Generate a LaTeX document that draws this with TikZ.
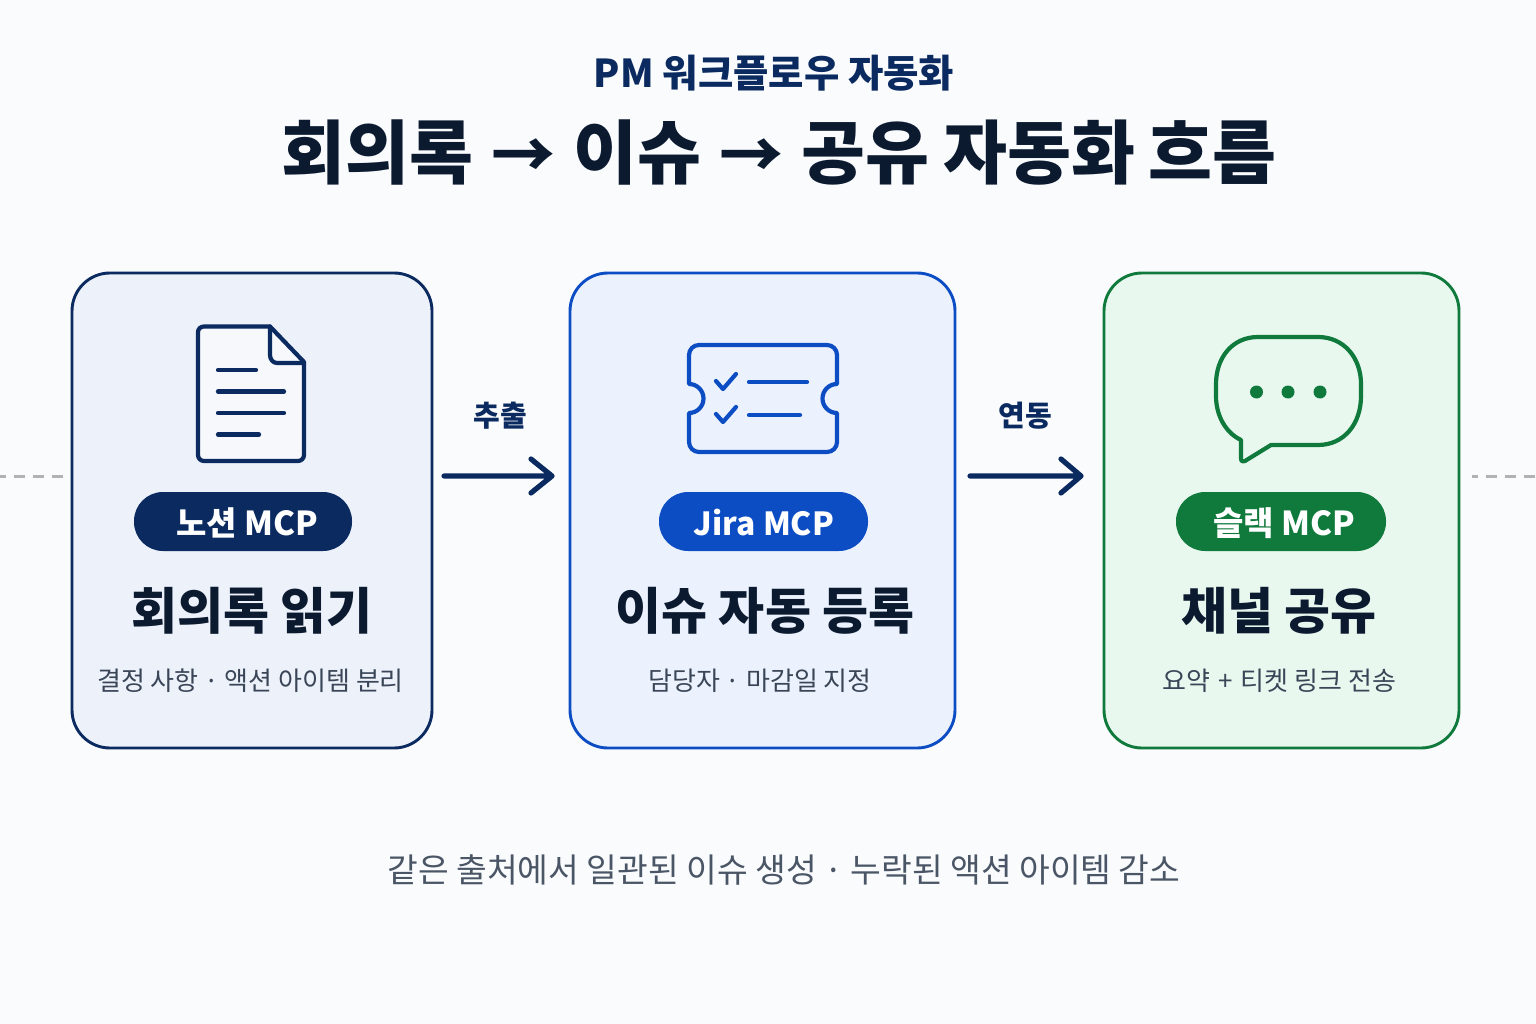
\documentclass[tikz,border=0pt]{standalone}
\usepackage{fontspec}
\setmainfont{Noto Sans CJK KR}
\newfontfamily\krm{Noto Sans CJK KR Medium}
\newcommand{\fsz}[1]{\fontsize{#1}{#1}\selectfont}
\definecolor{bgc}{HTML}{F9FBFD}
\definecolor{navy}{HTML}{0A2A60}
\definecolor{ink}{HTML}{0C1A30}
\definecolor{blu}{HTML}{0D4DC4}
\definecolor{grn}{HTML}{107A3C}
\definecolor{subc}{HTML}{3A4657}
\definecolor{footc}{HTML}{4A5565}
\tikzset{
  card/.style={draw=#1,line width=2.9pt,rounded corners=38pt},
  pill/.style={rounded corners=29pt,fill=#1},
  pilltxt/.style={text=white,font=\bfseries\fsz{33}},
  head/.style={text=ink,font=\bfseries\fsz{50}},
  subt/.style={text=subc,font=\fsz{26}},
  lab/.style={text=navy,font=\bfseries\fsz{29}},
  flow/.style={draw=navy,line width=5.2pt,line cap=round,line join=round},
  guide/.style={draw=gray!60,line width=3pt,dash pattern=on 11pt off 8pt,dash phase=5pt},
  ico/.style={line width=#1,line cap=round,line join=round},
}
\begin{document}
\begin{tikzpicture}[x=1pt,y=-1pt]
\useasboundingbox (0,0) rectangle (1536,1024);
\fill[bgc] (0,0) rectangle (1536,1024);
% titles
\node (over) at (774,73) {\color{navy}\bfseries\fsz{38.4}PM 워크플로우 자동화};
\node (title) at (779,153) {\color{ink}\bfseries\fsz{69.5}회의록\kern18pt{\fsz{64}→}\kern18pt{}이슈\kern18pt{\fsz{64}→}\kern18pt{}공유\kern15pt{}자동화\kern13pt{}흐름};
% guides
\coordinate (gl) at (0,476); \coordinate (gle) at (66,476);
\coordinate (gr) at (1472,476); \coordinate (gre) at (1536,476);
\draw[guide] (gl) -- (gle);
\draw[guide] (gr) -- (gre);
% cards
\draw[card=navy,fill={rgb,255:red,236;green,241;blue,250}] (72,273) rectangle (432,748);
\draw[card=blu,fill={rgb,255:red,235;green,242;blue,253}] (570,273) rectangle (955,748);
\draw[card=grn,fill={rgb,255:red,233;green,248;blue,239}] (1104,273) rectangle (1459,748);
\coordinate (c1) at (432,476); \coordinate (c2) at (570,476);
\coordinate (c2r) at (955,476); \coordinate (c3) at (1104,476);
% doc icon
\begin{scope}[ico=4.2pt,draw=navy]
\draw[fill={rgb,255:red,246;green,248;blue,252}] (270,326.5) -- (204,326.5) to[out=180,in=90] (198,332) -- (198,455) to[out=-90,in=180] (204,461) -- (298,461) to[out=0,in=-90] (304,455) -- (304,362) -- cycle;
\draw (270,326.5) -- (270,355) to[out=-90,in=180] (277,363) -- (304,363);
\draw (218,370) -- (256,370);
\draw (218,391.5) -- (284,391.5);
\draw (218,413) -- (284,413);
\draw (218,434.5) -- (259,434.5);
\end{scope}
% ticket icon
\begin{scope}[ico=4.2pt,draw=blu]
\draw (699,345) -- (827,345) to[out=0,in=90] (837,355) -- (837,384) arc[start angle=-90,end angle=-270,radius=14.5] -- (837,442) to[out=-90,in=0] (827,452) -- (699,452) to[out=180,in=-90] (689,442) -- (689,413) arc[start angle=90,end angle=-90,radius=14.5] -- (689,355) to[out=90,in=180] cycle;
\draw (716,381) -- (723,389) -- (736,374);
\draw (716,414) -- (723,422) -- (736,407);
\draw (749,382) -- (807,382);
\draw (749,415) -- (800,415);
\end{scope}
% chat icon
\begin{scope}[ico=4.2pt,draw=grn]
\draw (1258,337) -- (1318,337) .. controls (1344,337) and (1361,358) .. (1361,384) -- (1361,396) .. controls (1361,424) and (1344,445) .. (1318,445) -- (1271,445) -- (1245,461) .. controls (1242,462) and (1241,461) .. (1241,458) -- (1241,440) .. controls (1226,433) and (1216,416) .. (1216,396) -- (1216,384) .. controls (1216,358) and (1232,337) .. cycle;
\fill[grn] (1256.5,392) circle (6.5pt) (1288,392) circle (6.5pt) (1320,392) circle (6.5pt);
\end{scope}
% pills
\fill[pill=navy] (134,492) rectangle (352,551);
\fill[pill=blu] (659,492) rectangle (868,551);
\fill[pill=grn] (1176,492) rectangle (1386,551);
\node[pilltxt] (p1) at (247,523) {노션 MCP};
\node[pilltxt,font=\bfseries\fsz{31.8}] (p2) at (764,523) {Jira MCP};
\node[pilltxt] (p3) at (1284,523) {슬랙 MCP};
% heads
\node[head] (h1) at (252,611) {회의록 읽기};
\node[head] (h2) at (765,611) {이슈 자동 등록};
\node[head] (h3) at (1279,611) {채널 공유};
\node[subt] (s1) at (250.5,681) {결정 사항 · 액션 아이템 분리};
\node[subt] (s2) at (760,681) {담당자 · 마감일 지정};
\node[subt] (s3) at (1279.5,681) {요약\kern2pt{} + \kern2pt{}티켓 링크 전송};
% connectors
\node[lab] (l1) at (500,416) {추출};
\node[lab] (l2) at (1025,416) {연동};
\draw[flow] ([xshift=12pt]c1) -- ([xshift=-18pt]c2) ([xshift=-39pt,yshift=-17pt]c2) -- ([xshift=-18pt]c2) -- ([xshift=-39pt,yshift=17pt]c2);
\draw[flow] ([xshift=15pt]c2r) -- ([xshift=-23pt]c3) ([xshift=-43pt,yshift=-17pt]c3) -- ([xshift=-23pt]c3) -- ([xshift=-43pt,yshift=17pt]c3);
% footer
\node (foot) at (784,870) {\color{footc}\fsz{33.4}같은 출처에서 일관된 이슈 생성 · 누락된 액션 아이템 감소};
\end{tikzpicture}
\end{document}
